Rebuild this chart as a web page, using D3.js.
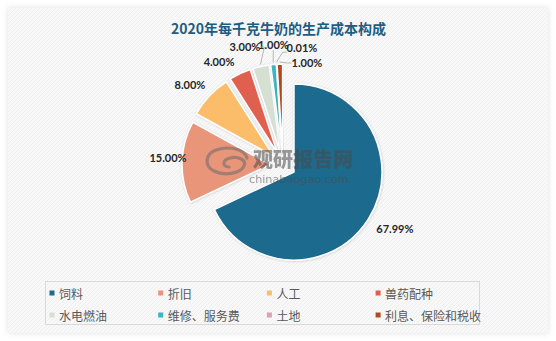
<!DOCTYPE html>
<html>
<head>
<meta charset="utf-8">
<script src="https://cdn.jsdelivr.net/npm/d3@7"></script>
<style>
  html, body { margin: 0; padding: 0; background: #ffffff; }
  svg { display: block; }
</style>
</head>
<body>
<svg id="chart" width="556" height="341"></svg>
<script>
// Cost structure of one kilogram of milk, 2020 (percent)
const categories = ["饲料", "折旧", "人工", "兽药配种", "水电燃油", "维修、服务费", "土地", "利息、保险和税收"];
const values = [67.99, 15.00, 8.00, 4.00, 3.00, 1.00, 0.01, 1.00];
const sliceColors = ["#1d6a8d", "#e8957a", "#fbbd6a", "#e0604f", "#d5e0d3", "#3bb4c4", "#d9a0b8", "#b4471f"];
const title = "2020年每千克牛奶的生产成本构成";

// Label placement around the pie: [angle in degrees clockwise from 12 o'clock, distance from pie centre]
const labelPolar = [[119.4, 128.5], [273.5, 115.2], [310.7, 122.7], [328.4, 122.1],
                    [342.15, 124.0], [355.47, 120.4], [9.15, 119.5], [13.2, 104.8]];
// Slices whose labels sit apart from them and get a leader line
const withLeader = [false, false, false, false, true, true, true, true];

const W = 556, H = 341;
const cx = 283, cy = 165, radius = 88, explode = 13;

const svg = d3.select("#chart");
const defs = svg.append("defs");

const cardShadow = defs.append("filter").attr("id", "cardShadow")
  .attr("x", "-5%").attr("y", "-5%").attr("width", "110%").attr("height", "110%");
cardShadow.append("feDropShadow").attr("dx", 0).attr("dy", 0).attr("stdDeviation", 3)
  .attr("flood-color", "#000").attr("flood-opacity", 0.12);

const sliceShadow = defs.append("filter").attr("id", "sliceShadow")
  .attr("x", "-20%").attr("y", "-20%").attr("width", "140%").attr("height", "140%");
sliceShadow.append("feDropShadow").attr("dx", 0.5).attr("dy", 0.5).attr("stdDeviation", 1.2)
  .attr("flood-color", "#000").attr("flood-opacity", 0.18);

const hatch = defs.append("pattern").attr("id", "hatch")
  .attr("width", 4).attr("height", 4).attr("patternUnits", "userSpaceOnUse");
hatch.append("rect").attr("width", 4).attr("height", 4).attr("fill", "#f8f8f8");
hatch.append("path").attr("d", "M0,4 L4,0").attr("stroke", "#efefef").attr("stroke-width", 1);

// Card background
svg.append("rect").attr("x", 8).attr("y", 8).attr("width", W - 16).attr("height", H - 16)
  .attr("fill", "url(#hatch)").attr("filter", "url(#cardShadow)");

// Pie
const pie = d3.pie().sort(null).value(d => d).startAngle(0).endAngle(2 * Math.PI);
const arcs = pie(values);
const arc = d3.arc().innerRadius(0).outerRadius(radius);
const dir = a => [Math.sin(a), -Math.cos(a)];

const pieG = svg.append("g").attr("transform", `translate(${cx},${cy})`);
pieG.selectAll("path.slice")
  .data(arcs)
  .join("path")
  .attr("class", "slice")
  .attr("transform", d => {
    const m = (d.startAngle + d.endAngle) / 2;
    const [ux, uy] = dir(m);
    return `translate(${ux * explode},${uy * explode})`;
  })
  .attr("d", arc)
  .attr("fill", (d, i) => sliceColors[i])
  .attr("stroke", "#ffffff")
  .attr("stroke-width", 1.5)
  .attr("stroke-linejoin", "round")
  .attr("filter", "url(#sliceShadow)");

// Watermark
const wm = svg.append("g").attr("opacity", 0.55);
wm.append("path")
  .attr("d", "M247,158 C244,148 228,146 216,150 C205,154 204,166 214,171 C224,176 240,174 244,166 C247,160 238,156 230,158 C222,160 222,167 229,167")
  .attr("fill", "none").attr("stroke", "#6b6b6b").attr("stroke-width", 3.2).attr("stroke-linecap", "round");
wm.append("text").attr("x", 253).attr("y", 167)
  .attr("font-family", "'Noto Sans CJK SC', sans-serif").attr("font-weight", 900)
  .attr("font-size", 20).attr("fill", "#4a4a4a").text("观研报告网");
wm.append("text").attr("x", 249).attr("y", 183)
  .attr("font-family", "'DejaVu Sans', sans-serif")
  .attr("font-size", 11.2).attr("fill", "#4a4a4a").text("chinabaogao.com");

// Data labels
const labelG = svg.append("g");
const labels = arcs.map((d, i) => {
  const [a, r] = labelPolar[i];
  const rad = a * Math.PI / 180;
  const [ux, uy] = dir(rad);
  return { d, i, x: cx + ux * r, y: cy + uy * r, text: values[i].toFixed(2) + "%" };
});

labelG.selectAll("text")
  .data(labels)
  .join("text")
  .attr("x", l => l.x)
  .attr("y", l => l.y)
  .attr("text-anchor", "middle")
  .attr("dominant-baseline", "central")
  .attr("font-family", "Lato, 'Liberation Sans', sans-serif")
  .attr("font-weight", "bold")
  .attr("font-size", 11)
  .attr("fill", "#262626")
  .text(l => l.text);

// Leader lines from slice edge to label
labelG.selectAll("text").each(function (l) {
  l.box = this.getBBox();
});
const leaderData = labels.filter(l => withLeader[l.i]).map(l => {
  const m = (l.d.startAngle + l.d.endAngle) / 2;
  const [ux, uy] = dir(m);
  const px = cx + ux * (explode + radius + 2);
  const py = cy + uy * (explode + radius + 2);
  const b = l.box;
  const half = 5.2;
  let pts;
  if (px >= b.x && px <= b.x + b.width) {
    pts = [[px, py], [px, l.y + half]];
  } else if (px > b.x + b.width) {
    pts = [[px, py], [b.x + b.width + 4, l.y], [b.x + b.width, l.y]];
  } else {
    pts = [[px, py], [b.x - 4, l.y + (py > l.y + half ? half : 0)], [b.x, l.y + (py > l.y + half ? half : 0)]];
  }
  return pts;
});
labelG.selectAll("path.leader")
  .data(leaderData)
  .join("path")
  .attr("class", "leader")
  .attr("d", d3.line())
  .attr("fill", "none")
  .attr("stroke", "#a6a6a6")
  .attr("stroke-width", 0.8);

// Title
svg.append("text")
  .attr("x", 278.5).attr("y", 28)
  .attr("text-anchor", "middle")
  .attr("dominant-baseline", "central")
  .attr("font-family", "'Noto Sans CJK SC', sans-serif")
  .attr("font-weight", "bold")
  .attr("font-size", 14)
  .attr("fill", "#1f5d7f")
  .text(title);

// Legend
const legendX0 = 52, legendStep = 108.7, legendRowY = [293, 315];
svg.append("rect").attr("x", 45.5).attr("y", 281.5).attr("width", 434).attr("height", 43)
  .attr("fill", "none").attr("stroke", "#d9d9d9").attr("stroke-width", 1);
const legend = svg.append("g").selectAll("g")
  .data(categories)
  .join("g")
  .attr("transform", (c, i) => `translate(${legendX0 + (i % 4) * legendStep},${legendRowY[Math.floor(i / 4)]})`);
legend.append("rect").attr("x", -2.5).attr("y", -2.5).attr("width", 5).attr("height", 5)
  .attr("fill", (c, i) => sliceColors[i]);
legend.append("text").attr("x", 7).attr("y", 0)
  .attr("dominant-baseline", "central")
  .attr("font-family", "'Noto Sans CJK SC', sans-serif")
  .attr("font-size", 12)
  .attr("fill", "#595959")
  .text(c => c);
</script>
</body>
</html>
